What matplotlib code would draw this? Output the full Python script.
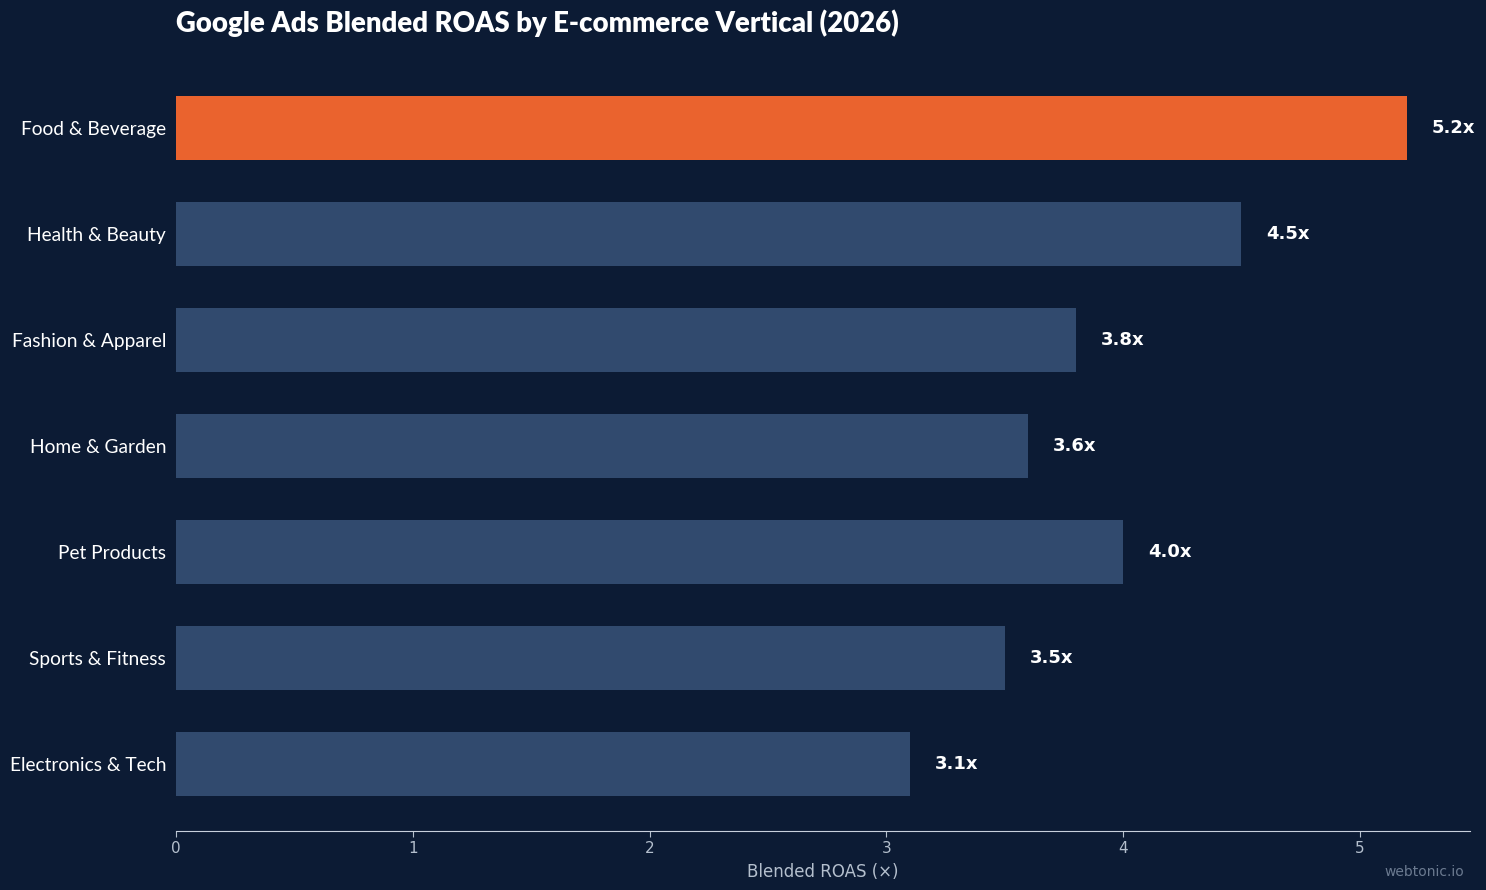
import matplotlib
matplotlib.use("Agg")
import matplotlib.pyplot as plt

# data
verticals = ["Food & Beverage", "Health & Beauty", "Fashion & Apparel", "Home & Garden",
             "Pet Products", "Sports & Fitness", "Electronics & Tech"]
roas = [5.2, 4.5, 3.8, 3.6, 4.0, 3.5, 3.1]
highlight = "Food & Beverage"

BG = "#0c1b34"
BAR = "#314a6e"
HI = "#ea632e"
TXT = "#b4bfcd"

fig = plt.figure(figsize=(14.86, 8.9), dpi=100, facecolor=BG)
ax = fig.add_axes([0.1184, 0.0663, 0.8708, 0.8652], facecolor=BG)

ypos = list(range(len(verticals)))
colors = [HI if v == highlight else BAR for v in verticals]
ax.barh(ypos, roas, height=0.6, color=colors)
ax.invert_yaxis()
ax.set_xlim(0, 5.465)

for y, v in zip(ypos, roas):
    ax.text(v + 0.105, y, f"{v:.1f}x", va="center", ha="left", color="white",
            fontsize=13, fontweight="bold", family="DejaVu Sans")

ax.set_yticks(ypos)
ax.set_yticklabels(verticals, family="Lato", fontsize=13.8, color="white")
ax.tick_params(axis="y", length=0, pad=7)
ax.tick_params(axis="x", colors=TXT, labelsize=11, length=4)
for s in ["top", "right", "left"]:
    ax.spines[s].set_visible(False)
ax.spines["bottom"].set_color("#c8d0dc")
ax.set_xlabel("Blended ROAS (×)", color=TXT, fontsize=12, labelpad=5)

fig.text(0.1184, 0.99, "Google Ads Blended ROAS by E-commerce Vertical (2026)",
         family="Lato", fontweight="heavy", fontsize=19.8, color="white", va="top", ha="left")
fig.text(0.985, 0.012, "webtonic.io", color="#6b7a90", fontsize=10, ha="right", va="bottom")

fig.savefig("out.png", dpi=100, facecolor=BG)
